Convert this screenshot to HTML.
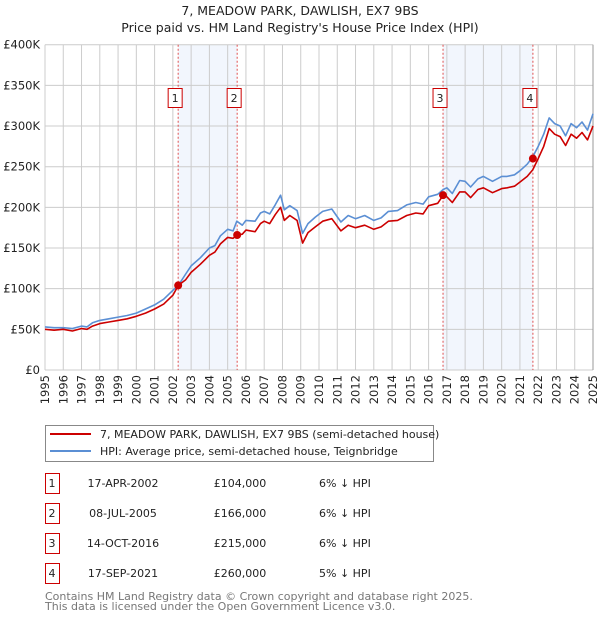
<!DOCTYPE html>
<html><head><meta charset="utf-8"><style>
body{margin:0;background:#fff;font-family:"DejaVu Sans","Liberation Sans",sans-serif;}
#wrap{position:relative;width:600px;height:620px;overflow:hidden;}
svg text{font-family:"DejaVu Sans","Liberation Sans",sans-serif;}
</style></head><body><div id="wrap">
<svg id="chart" width="600" height="620" xmlns="http://www.w3.org/2000/svg">
<text x="300" y="15" text-anchor="middle" font-size="12.5" fill="#222">7, MEADOW PARK, DAWLISH, EX7 9BS</text>
<text x="300" y="32" text-anchor="middle" font-size="12.5" fill="#222">Price paid vs. HM Land Registry's House Price Index (HPI)</text>
<g id="plot"></g>
<rect x="45.5" y="425.5" width="388" height="36" fill="#fff" stroke="#888"/>
<line x1="50" y1="434" x2="91" y2="434" stroke="#cc0000" stroke-width="2"/>
<text x="100" y="438" font-size="11" fill="#222">7, MEADOW PARK, DAWLISH, EX7 9BS (semi-detached house)</text>
<line x1="50" y1="451" x2="91" y2="451" stroke="#5b8fd4" stroke-width="2"/>
<text x="100" y="455" font-size="11" fill="#222">HPI: Average price, semi-detached house, Teignbridge</text>
<g id="table" font-size="11" fill="#222"></g>
<text x="45" y="600" font-size="11" fill="#777">Contains HM Land Registry data © Crown copyright and database right 2025.</text>
<text x="45" y="610" font-size="11" fill="#777">This data is licensed under the Open Government Licence v3.0.</text>
</svg></div>
<script>
const years=[1995,1995.5,1996,1996.5,1997,1997.3,1997.6,1998,1998.5,1999,1999.5,2000,2000.5,2001,2001.5,2002,2002.3,2002.7,2003,2003.5,2004,2004.3,2004.6,2005,2005.3,2005.5,2005.8,2006,2006.5,2006.8,2007,2007.3,2007.6,2007.9,2008.1,2008.4,2008.8,2009.1,2009.4,2009.8,2010.2,2010.7,2011.2,2011.6,2012,2012.5,2013,2013.4,2013.8,2014.3,2014.8,2015.3,2015.7,2016,2016.5,2016.8,2017,2017.3,2017.7,2018,2018.3,2018.7,2019,2019.5,2020,2020.3,2020.7,2021,2021.4,2021.7,2022,2022.3,2022.6,2022.9,2023.2,2023.5,2023.8,2024.1,2024.4,2024.7,2025];
const hpiValues=[53,52,52,51,54,53,58,61,63,65,67,70,75,80,87,98,104,118,128,138,150,153,165,173,171,183,178,184,183,193,195,192,203,215,197,202,196,168,180,188,195,198,182,190,186,190,184,187,195,196,203,206,204,213,216,222,224,217,233,232,225,235,238,232,238,238,240,245,253,262,275,290,310,303,300,288,303,298,305,295,315,310];
const priceValues=[50,49,50,48,51,50,54,57,59,61,63,66,70,75,81,92,104,111,120,130,141,145,155,163,162,166,167,172,170,180,183,180,191,200,184,190,184,156,169,176,183,186,171,178,175,178,173,176,183,184,190,193,192,202,205,215,213,206,219,219,212,222,224,218,223,224,226,231,238,246,260,275,297,290,287,276,290,285,292,283,300,297];
const saleYears=[2002.29,2005.52,2016.79,2021.71];
const salePrices=[104,166,215,260];
const saleLabels=["1","2","3","4"];
const saleDates=["17-APR-2002","08-JUL-2005","14-OCT-2016","17-SEP-2021"];
const salePriceText=["£104,000","£166,000","£215,000","£260,000"];
const saleDiffs=["6% ↓ HPI","6% ↓ HPI","6% ↓ HPI","5% ↓ HPI"];
const yTicks=[0,50,100,150,200,250,300,350,400];
const yTickLabels=["£0","£50K","£100K","£150K","£200K","£250K","£300K","£350K","£400K"];
const x0=45,x1=593,y0=370,yTop=44.7;
const X=v=>x0+(v-1995)/30*(x1-x0);
const Y=v=>y0-(v/400)*(y0-yTop);
const NS="http://www.w3.org/2000/svg";
const plot=document.getElementById('plot');
function mk(tag,attrs,parent){const e=document.createElementNS(NS,tag);for(const k in attrs)e.setAttribute(k,attrs[k]);(parent||plot).appendChild(e);return e;}
for(let i=0;i<saleYears.length;i+=2){
 const r=mk('rect',{x:X(saleYears[i]),y:yTop,width:X(saleYears[i+1])-X(saleYears[i]),height:y0-yTop,fill:'#f2f6fd'});
 
 
}
for(let i=0;i<yTicks.length;i++){
 const l=mk('line',{x1:x0,x2:x1,y1:Y(yTicks[i]),y2:Y(yTicks[i]),stroke:'#ccc'});
 
 
 const t=mk('text',{x:40,y:Y(yTicks[i])+4,'text-anchor':'end','font-size':11.5,fill:'#222'});
 t.textContent=yTickLabels[i];
 
 
}
for(let yr=1995;yr<=2025;yr++){
 const l=mk('line',{x1:X(yr),x2:X(yr),y1:yTop,y2:y0,stroke:'#ccc'});
 
 
 const t=mk('text',{x:0,y:0,'font-size':11.5,fill:'#222','text-anchor':'end',transform:`translate(${X(yr)+4},${y0+5}) rotate(-90)`});
 t.textContent=yr;
 
 
}
const ax=mk('line',{x1:x1,x2:x1,y1:yTop,y2:y0,stroke:'#999'});


for(let i=0;i<saleYears.length;i++){
 const l=mk('line',{x1:X(saleYears[i]),x2:X(saleYears[i]),y1:yTop,y2:y0,stroke:'#e05050','stroke-dasharray':'2,2'});
 
 
}
function path(vals,color,name){
 const d=vals.map((v,i)=>(i?'L':'M')+X(years[i]).toFixed(1)+','+Y(v).toFixed(1)).join('');
 const p=mk('path',{d:d,fill:'none',stroke:color,'stroke-width':1.6,'stroke-linejoin':'round'});
 
 
}
path(hpiValues,'#5b8fd4','hpi-line');
path(priceValues,'#cc0000','property-price-line');
for(let i=0;i<saleYears.length;i++){
 const c=mk('circle',{cx:X(saleYears[i]),cy:Y(salePrices[i]),r:4,fill:'#cc0000'});
 
 
 const cx=X(saleYears[i])-3;
 const b=mk('rect',{x:cx-7,y:88.5,width:14,height:19,fill:'#fff',stroke:'#cc0000'});
 
 
 const t=mk('text',{x:cx,y:102,'text-anchor':'middle','font-size':11,fill:'#222'});
 t.textContent=saleLabels[i];
 
 
}
const tb=document.getElementById('table');
const rowY=[483,513,543,573];
for(let i=0;i<4;i++){
 const b=mk('rect',{x:45.5,y:rowY[i]-9.5,width:14,height:20,fill:'#fff',stroke:'#cc0000'},tb);
 
 
 const cols=[[52,saleLabels[i],'middle'],[123,saleDates[i],'middle'],[240,salePriceText[i],'middle'],[319,saleDiffs[i],'start']];
 cols.forEach((c,j)=>{
  const t=mk('text',{x:c[0],y:rowY[i]+4,'text-anchor':c[2]},tb);
  t.textContent=c[1];
  
  
 });
}
</script></body></html>
